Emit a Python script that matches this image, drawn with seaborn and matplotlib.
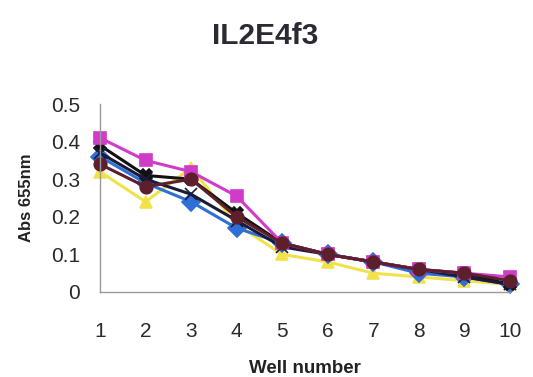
import matplotlib
matplotlib.use("Agg")
import matplotlib.pyplot as plt
import seaborn as sns
import pandas as pd

wells = [1, 2, 3, 4, 5, 6, 7, 8, 9, 10]

series_names = ["S1", "S2", "S3", "S4", "S5", "S6"]
s1_yellow = [0.32, 0.24, 0.33, 0.18, 0.10, 0.08, 0.05, 0.04, 0.03, 0.02]
s2_blue = [0.36, 0.29, 0.24, 0.17, 0.13, 0.10, 0.08, 0.05, 0.04, 0.02]
s3_black = [0.39, 0.31, 0.30, 0.21, 0.13, 0.10, 0.08, 0.06, 0.05, 0.02]
s4_navy = [0.37, 0.30, 0.26, 0.19, 0.12, 0.10, 0.08, 0.06, 0.04, 0.02]
s5_magenta = [0.41, 0.35, 0.32, 0.255, 0.13, 0.10, 0.08, 0.06, 0.05, 0.04]
s6_maroon = [0.34, 0.28, 0.30, 0.20, 0.13, 0.10, 0.08, 0.06, 0.05, 0.03]

values = [s1_yellow, s2_blue, s3_black, s4_navy, s5_magenta, s6_maroon]
colors = ["#f2e24a", "#2f6fd6", "#111111", "#1a1a3a", "#d03cc8", "#5e1f2c"]
markers = ["^", "D", "X", "x", "s", "o"]

df = pd.DataFrame({
    "well": wells * len(series_names),
    "abs": [v for vals in values for v in vals],
    "series": [n for n in series_names for _ in wells],
})

sns.set_theme(style="white")
plt.rcParams["font.family"] = ["Liberation Sans", "DejaVu Sans"]

fig = plt.figure(figsize=(5.33, 3.77), dpi=100)
ax = fig.add_axes([0.1876, 0.2255, 0.7690, 0.4986])

for name, vals, col, mk in zip(series_names, values, colors, markers):
    sub = df[df["series"] == name]
    sns.lineplot(data=sub, x="well", y="abs", ax=ax, color=col, marker=mk,
                 markersize=9, markeredgecolor=col, markeredgewidth=1.2,
                 linewidth=2.2, legend=False)

ax.set_xlim(1, 10)
ax.set_ylim(0, 0.5)
ax.set_xticks(wells)
ax.set_xticklabels([str(w) for w in wells])
ax.set_yticks([0, 0.1, 0.2, 0.3, 0.4, 0.5])
ax.set_yticklabels(["0", "0.1", "0.2", "0.3", "0.4", "0.5"])

for side in ["top", "right"]:
    ax.spines[side].set_visible(False)
for side in ["left", "bottom"]:
    ax.spines[side].set_color("#999999")
    ax.spines[side].set_linewidth(1.0)

ax.tick_params(axis="both", direction="inout", length=9, width=1.0,
               color="#999999", labelsize=15, labelcolor="#2a2a2a")
ax.tick_params(axis="x", pad=17)
ax.tick_params(axis="y", pad=10)

ax.set_xlabel("Well number", fontsize=13.5, fontweight="bold", color="#222222", labelpad=14)
ax.set_ylabel("Abs 655nm", fontsize=12, fontweight="bold", color="#222222", labelpad=12)
fig.text(0.497, 0.905, "IL2E4f3", fontsize=21.5, fontweight="bold", color="#2a2a35",
         ha="center", va="center")

for line in ax.lines:
    line.set_clip_on(False)

fig.savefig("out.png", dpi=100)
